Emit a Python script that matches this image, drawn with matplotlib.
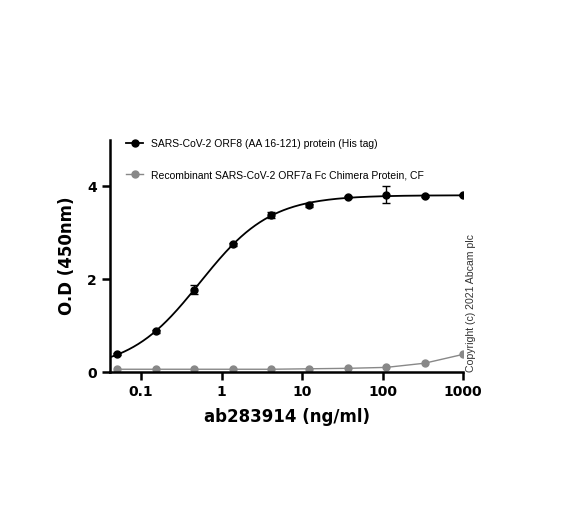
import matplotlib
matplotlib.use("Agg")
import matplotlib.pyplot as plt
import numpy as np

# 3-fold dilution series, ng/ml
conc = [0.0508, 0.152, 0.457, 1.37, 4.12, 12.3, 37.0, 111.0, 333.0, 1000.0]
orf8 = [0.38, 0.88, 1.77, 2.75, 3.38, 3.59, 3.76, 3.82, 3.79, 3.81]
orf8_err = [0.02, 0.03, 0.10, 0.03, 0.07, 0.03, 0.02, 0.18, 0.03, 0.02]
orf7a = [0.06, 0.06, 0.06, 0.06, 0.06, 0.07, 0.08, 0.10, 0.19, 0.38]

label8 = "SARS-CoV-2 ORF8 (AA 16-121) protein (His tag)"
label7 = "Recombinant SARS-CoV-2 ORF7a Fc Chimera Protein, CF"

# 4PL fit of the ORF8 points (grid over ec50/hill, linear solve for bottom/top)
lx = np.log10(conc)
y = np.array(orf8)
best = None
for ec in np.linspace(-1.5, 1.5, 301):
    for h in np.linspace(0.3, 2.5, 221):
        s = 1.0 / (1.0 + 10 ** ((ec - lx) * h))
        A = np.column_stack([1 - s, s])
        coef, res, _, _ = np.linalg.lstsq(A, y, rcond=None)
        err = np.sum((A @ coef - y) ** 2)
        if best is None or err < best[0]:
            best = (err, ec, h, coef)
_, ec, h, (bot, top) = best
xf = np.linspace(np.log10(0.041), np.log10(1000), 300)
yf = bot + (top - bot) / (1.0 + 10 ** ((ec - xf) * h))

fig = plt.figure(figsize=(5.64, 5.16), dpi=100)
ax = fig.add_axes([0.195, 0.279, 0.626, 0.450])

ax.plot(10 ** xf, yf, color="black", lw=1.3)
ax.errorbar(conc, orf8, yerr=orf8_err, fmt="o", color="black", ms=5,
            capsize=3, elinewidth=1, capthick=1)
ax.plot(conc, orf7a, "o-", color="#888888", ms=5, lw=1)

# legend handles
ax.plot([], [], "o-", color="black", ms=5, lw=1.3, label=label8)
ax.plot([], [], "o-", color="#888888", ms=5, lw=1, label=label7)
h_, l_ = ax.get_legend_handles_labels()
ax.legend(h_[-2:], l_[-2:], loc="upper left", bbox_to_anchor=(0.02, 1.045),
          frameon=False, prop={"family": "Liberation Sans", "size": 7.5},
          labelspacing=2.05, handlelength=1.6, handletextpad=0.8)

ax.set_xscale("log")
ax.set_xlim(0.041, 1000)
ax.set_ylim(0, 5)
ax.set_yticks([0, 2, 4])
ax.set_xticks([0.1, 1, 10, 100, 1000])
ax.set_xticklabels(["0.1", "1", "10", "100", "1000"])
ax.xaxis.set_minor_locator(matplotlib.ticker.NullLocator())
for sp in ["top", "right"]:
    ax.spines[sp].set_visible(False)
for sp in ["left", "bottom"]:
    ax.spines[sp].set_linewidth(1.8)
ax.tick_params(width=1.8, length=6, labelsize=10)
for t in ax.get_xticklabels() + ax.get_yticklabels():
    t.set_fontweight("bold")

ax.set_xlabel("ab283914 (ng/ml)", fontsize=12, fontweight="bold", labelpad=6)
ax.set_ylabel("O.D (450nm)", fontsize=12, fontweight="bold", labelpad=8)

fig.text(0.827, 0.279, "Copyright (c) 2021 Abcam plc", rotation=90,
         fontsize=7.6, color="#333333", ha="left", va="bottom",
         family="Liberation Sans")

fig.savefig("out.png", dpi=100)
